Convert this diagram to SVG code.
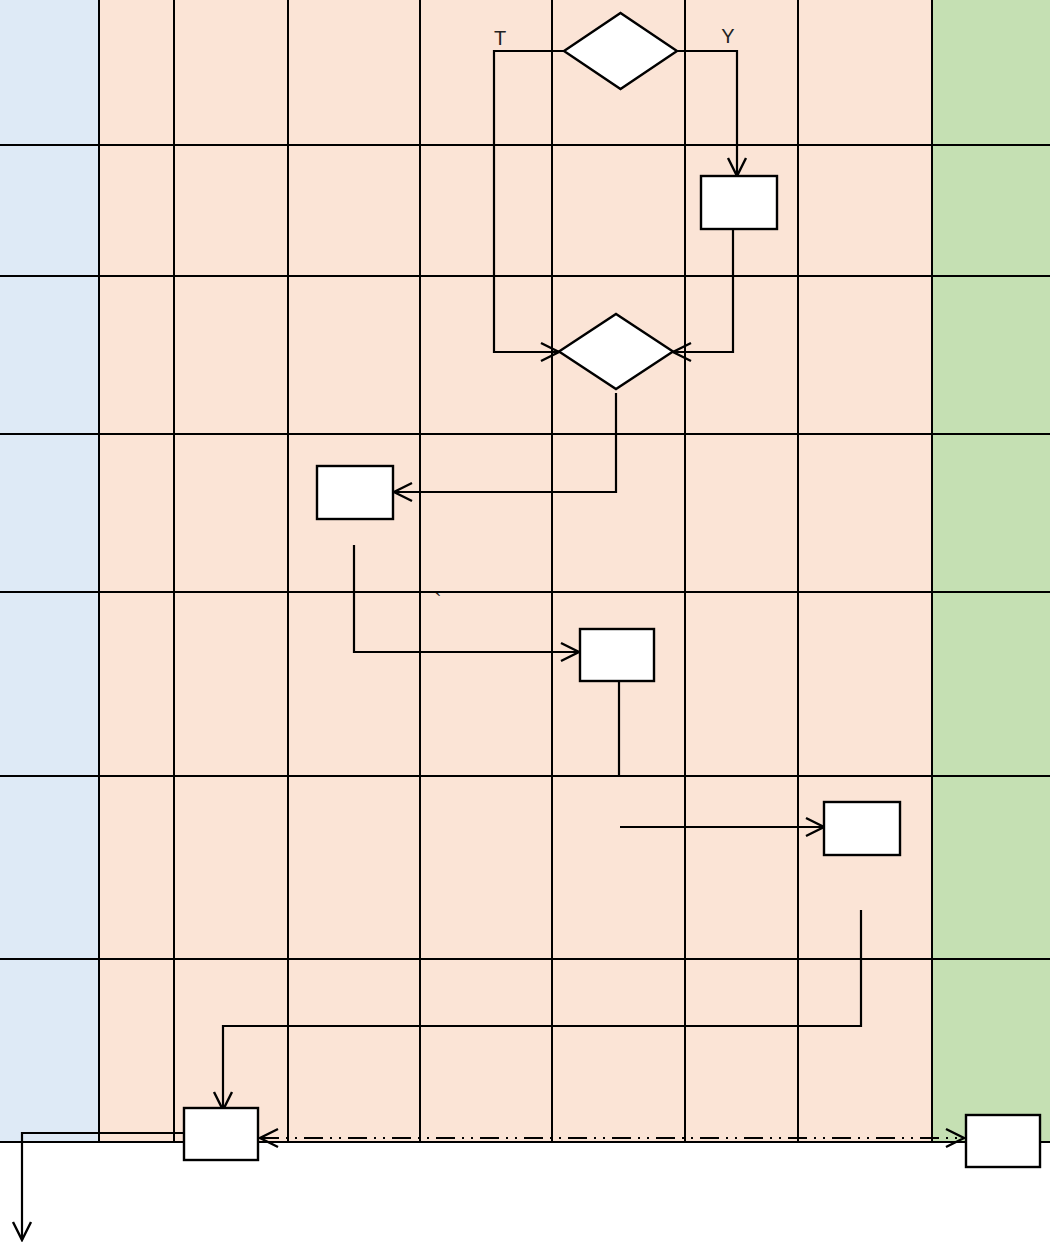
<svg xmlns="http://www.w3.org/2000/svg" width="1050" height="1242" viewBox="0 0 1050 1242">
<style>
.grid{stroke:#000;stroke-width:2;fill:none}
.node{fill:#fff;stroke:#000;stroke-width:2.4}
.conn{fill:none;stroke:#000;stroke-width:2.2}
.lbl{font-family:"Liberation Sans",Arial,sans-serif;font-size:20px;fill:#222}
</style>
<defs>
<marker id="arr" viewBox="0 0 24 24" refX="21" refY="12" markerWidth="24" markerHeight="24" markerUnits="userSpaceOnUse" orient="auto-start-reverse">
<path d="M3,3 L21,12 L3,21" fill="none" stroke="#000" stroke-width="2.4"/>
</marker>
</defs>
<rect width="1050" height="1242" fill="#fff"/>
<rect x="0" y="0" width="99" height="1142" fill="#DEEAF6"/>
<rect x="99" y="0" width="833" height="1142" fill="#FBE4D6"/>
<rect x="932" y="0" width="118" height="1142" fill="#C5E0B3"/>
<g id="grid" class="grid">
<path d="M99,0V1142M174,0V1142M288,0V1142M420,0V1142M552,0V1142M685,0V1142M798,0V1142M932,0V1142"/>
<path d="M0,145H1050M0,276H1050M0,434H1050M0,592H1050M0,776H1050M0,959H1050M0,1142H1050"/>
</g>
<g id="connectors">
<polyline class="conn" points="564,51 494,51 494,352 559,352" marker-end="url(#arr)"/>
<polyline class="conn" points="677,51 737,51 737,176" marker-end="url(#arr)"/>
<polyline class="conn" points="733,229 733,352 673,352" marker-end="url(#arr)"/>
<polyline class="conn" points="616,393 616,492 394,492" marker-end="url(#arr)"/>
<polyline class="conn" points="354,545 354,652 579,652" marker-end="url(#arr)"/>
<polyline class="conn" points="619,681 619,776"/>
<polyline class="conn" points="620,827 824,827" marker-end="url(#arr)"/>
<polyline class="conn" points="861,910 861,1026 223,1026 223,1110" marker-end="url(#arr)"/>
<polyline class="conn" points="184,1133 22,1133 22,1240" marker-end="url(#arr)"/>
<line class="conn" x1="260" y1="1138" x2="964" y2="1138" stroke-dasharray="19 7 2 7 2 7" marker-start="url(#arr)" marker-end="url(#arr)"/>
</g>
<g id="decision1"><polygon class="node" points="564,51 620.5,13 677,51 620.5,89"/></g>
<g id="decision2"><polygon class="node" points="559,351.5 616,314 673,351.5 616,389"/></g>
<g id="box1"><rect class="node" x="701" y="176" width="76" height="53"/></g>
<g id="box2"><rect class="node" x="317" y="466" width="76" height="53"/></g>
<g id="box3"><rect class="node" x="580" y="629" width="74" height="52"/></g>
<g id="box4"><rect class="node" x="824" y="802" width="76" height="53"/></g>
<g id="box5"><rect class="node" x="184" y="1108" width="74" height="52"/></g>
<g id="box6"><rect class="node" x="966" y="1115" width="74" height="52"/></g>
<g id="labels">
<text class="lbl" x="500" y="45" text-anchor="middle">T</text>
<text class="lbl" x="728" y="43" text-anchor="middle">Y</text>
<text class="lbl" x="438" y="608" text-anchor="middle" font-size="14">`</text>
</g>
</svg>
